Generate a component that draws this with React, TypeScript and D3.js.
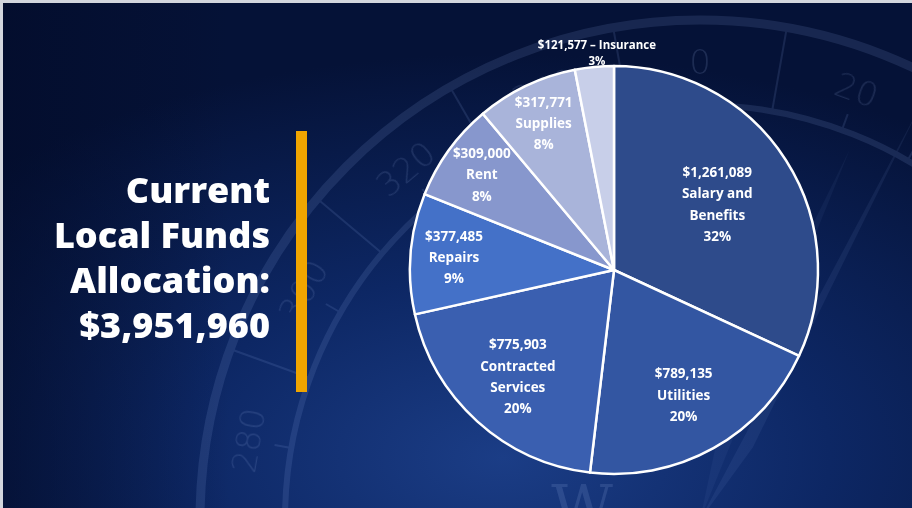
import React, { useEffect } from "react";
import * as d3 from "d3";

// slices, clockwise from 12 o'clock
const categories = ["Salary and Benefits", "Utilities", "Contracted Services", "Repairs", "Rent", "Supplies", "Insurance"];
const nameLines = [["Salary and", "Benefits"], ["Utilities"], ["Contracted", "Services"], ["Repairs"], ["Rent"], ["Supplies"], ["Insurance"]];
const amounts = [1261089, 789135, 775903, 377485, 309000, 317771, 121577];
const percentLabels = ["32%", "20%", "20%", "9%", "8%", "8%", "3%"];
const sliceColors = ["#2e4b8b", "#3356a2", "#3a5fb0", "#4471c8", "#8797cd", "#a9b4da", "#c8cfe9"];

const titleLines = ["Current", "Local Funds", "Allocation:", "$3,951,960"];
// compass watermark numbers that show inside the slide
const compassNumbers = [280, 300, 320, 340, 0, 20];

const W = 912;
const H = 508;
const FONT = "'Open Sans', Lato, sans-serif";

const App = () => {
  useEffect(() => {
    document.body.style.margin = "0";
  }, []);

  const cx = 614;
  const cy = 270;
  const R = 204;

  const pie = d3.pie<number>().sort(null).value((d) => d);
  const arcs = pie(amounts);
  const arcGen = d3.arc<d3.PieArcDatum<number>>().innerRadius(0).outerRadius(R);
  const total = d3.sum(amounts);
  const fmt = d3.format("$,");

  // bigger slices get their label nearer the centre
  const labelRadius = d3.scaleLinear().domain([0.08, 0.32]).range([0.8, 0.6]).clamp(true);

  // compass watermark
  const ccx = 700;
  const ccy = 520;
  const angle = d3.scaleLinear().domain([0, 360]).range([0, 2 * Math.PI]);
  const polar = (deg: number, r: number) => [ccx + r * Math.sin(angle(deg)), ccy - r * Math.cos(angle(deg))];

  return (
    <svg width={W} height={H} style={{ display: "block" }}>
      <defs>
        <radialGradient id="bg" cx="55%" cy="90%" r="80%">
          <stop offset="0%" stopColor="#1b3d86" />
          <stop offset="45%" stopColor="#0d2764" />
          <stop offset="100%" stopColor="#051237" />
        </radialGradient>
        <linearGradient id="shade" x1="0" x2="1" y1="0" y2="0">
          <stop offset="0%" stopColor="#020a26" stopOpacity={0.55} />
          <stop offset="25%" stopColor="#020a26" stopOpacity={0} />
        </linearGradient>
      </defs>
      <rect width={W} height={H} fill="#d3d6dd" />
      <rect x={3} y={3} width={W - 3} height={H - 3} fill="url(#bg)" />
      <rect x={3} y={3} width={W - 3} height={H - 3} fill="url(#shade)" />

      <g opacity={0.14} fill="none" stroke="#8eaae6">
        <circle cx={ccx} cy={ccy} r={500} strokeWidth={9} />
        <circle cx={ccx} cy={ccy} r={415} strokeWidth={6} />
        {d3.range(10, 360, 20).map((a) => {
          const [x1, y1] = polar(a, 415);
          const [x2, y2] = polar(a, 500);
          return <line key={"l" + a} x1={x1} y1={y1} x2={x2} y2={y2} strokeWidth={2} />;
        })}
        {d3.range(0, 360, 20).map((a) => {
          const [x1, y1] = polar(a, 415);
          const [x2, y2] = polar(a, 432);
          return <line key={"s" + a} x1={x1} y1={y1} x2={x2} y2={y2} strokeWidth={2} />;
        })}
        <path d={`M${ccx},${ccy} L${polar(28, 470).join(",")} L${polar(36, 90).join(",")} Z`} fill="#8eaae6" stroke="none" opacity={0.6} />
        <path d={`M${ccx},${ccy} L${polar(22, 400).join(",")} L${polar(12, 120).join(",")} Z`} fill="#8eaae6" stroke="none" opacity={0.4} />
      </g>
      <g opacity={0.16} fill="#9fb6ea" fontFamily="'DejaVu Sans', sans-serif" fontSize={34}>
        {compassNumbers.map((a) => {
          const [x, y] = polar(a, 458);
          return (
            <text key={a} x={x} y={y} textAnchor="middle" dominantBaseline="central" transform={`rotate(${a},${x},${y})`} fontWeight={200}>
              {a}
            </text>
          );
        })}
        <text x={582} y={528} textAnchor="middle" fontSize={60} fontFamily="'DejaVu Serif', serif">W</text>
      </g>

      <g fontFamily={FONT} fontWeight={800} fill="#ffffff" fontSize={36} textAnchor="end">
        {titleLines.map((t, i) => (
          <text key={t} x={270} y={203 + i * 45}>
            {t}
          </text>
        ))}
      </g>
      <rect x={296} y={131} width={11} height={261} fill="#f0a500" />

      <g transform={`translate(${cx},${cy})`}>
        {arcs.map((a, i) => (
          <path key={categories[i]} d={arcGen(a) || ""} fill={sliceColors[i]} stroke="#ffffff" strokeWidth={2.5} strokeLinejoin="round" />
        ))}
        <g fontFamily={FONT} fontWeight={700} fill="#ffffff" textAnchor="middle">
          {arcs.map((a, i) => {
            const share = amounts[i] / total;
            const mid = (a.startAngle + a.endAngle) / 2;
            if (share < 0.05) {
              const r = R + 15;
              const x = r * Math.sin(mid);
              const y = -r * Math.cos(mid);
              const lines = [`${fmt(amounts[i])} – ${nameLines[i].join(" ")}`, percentLabels[i]];
              return (
                <g key={categories[i]} fontSize={11.5}>
                  {lines.map((l, j) => (
                    <text key={j} x={x + 4} y={y + (j - 0.5) * 16} dominantBaseline="central">
                      {l}
                    </text>
                  ))}
                </g>
              );
            }
            const r = R * labelRadius(share);
            const x = r * Math.sin(mid);
            const y = -r * Math.cos(mid);
            const lines = [fmt(amounts[i]), ...nameLines[i], percentLabels[i]];
            const lh = 21.3;
            return (
              <g key={categories[i]} fontSize={13.5}>
                {lines.map((l, j) => (
                  <text key={j} x={x} y={y + (j - (lines.length - 1) / 2) * lh} dominantBaseline="central">
                    {l}
                  </text>
                ))}
              </g>
            );
          })}
        </g>
      </g>
    </svg>
  );
};

export default App;
